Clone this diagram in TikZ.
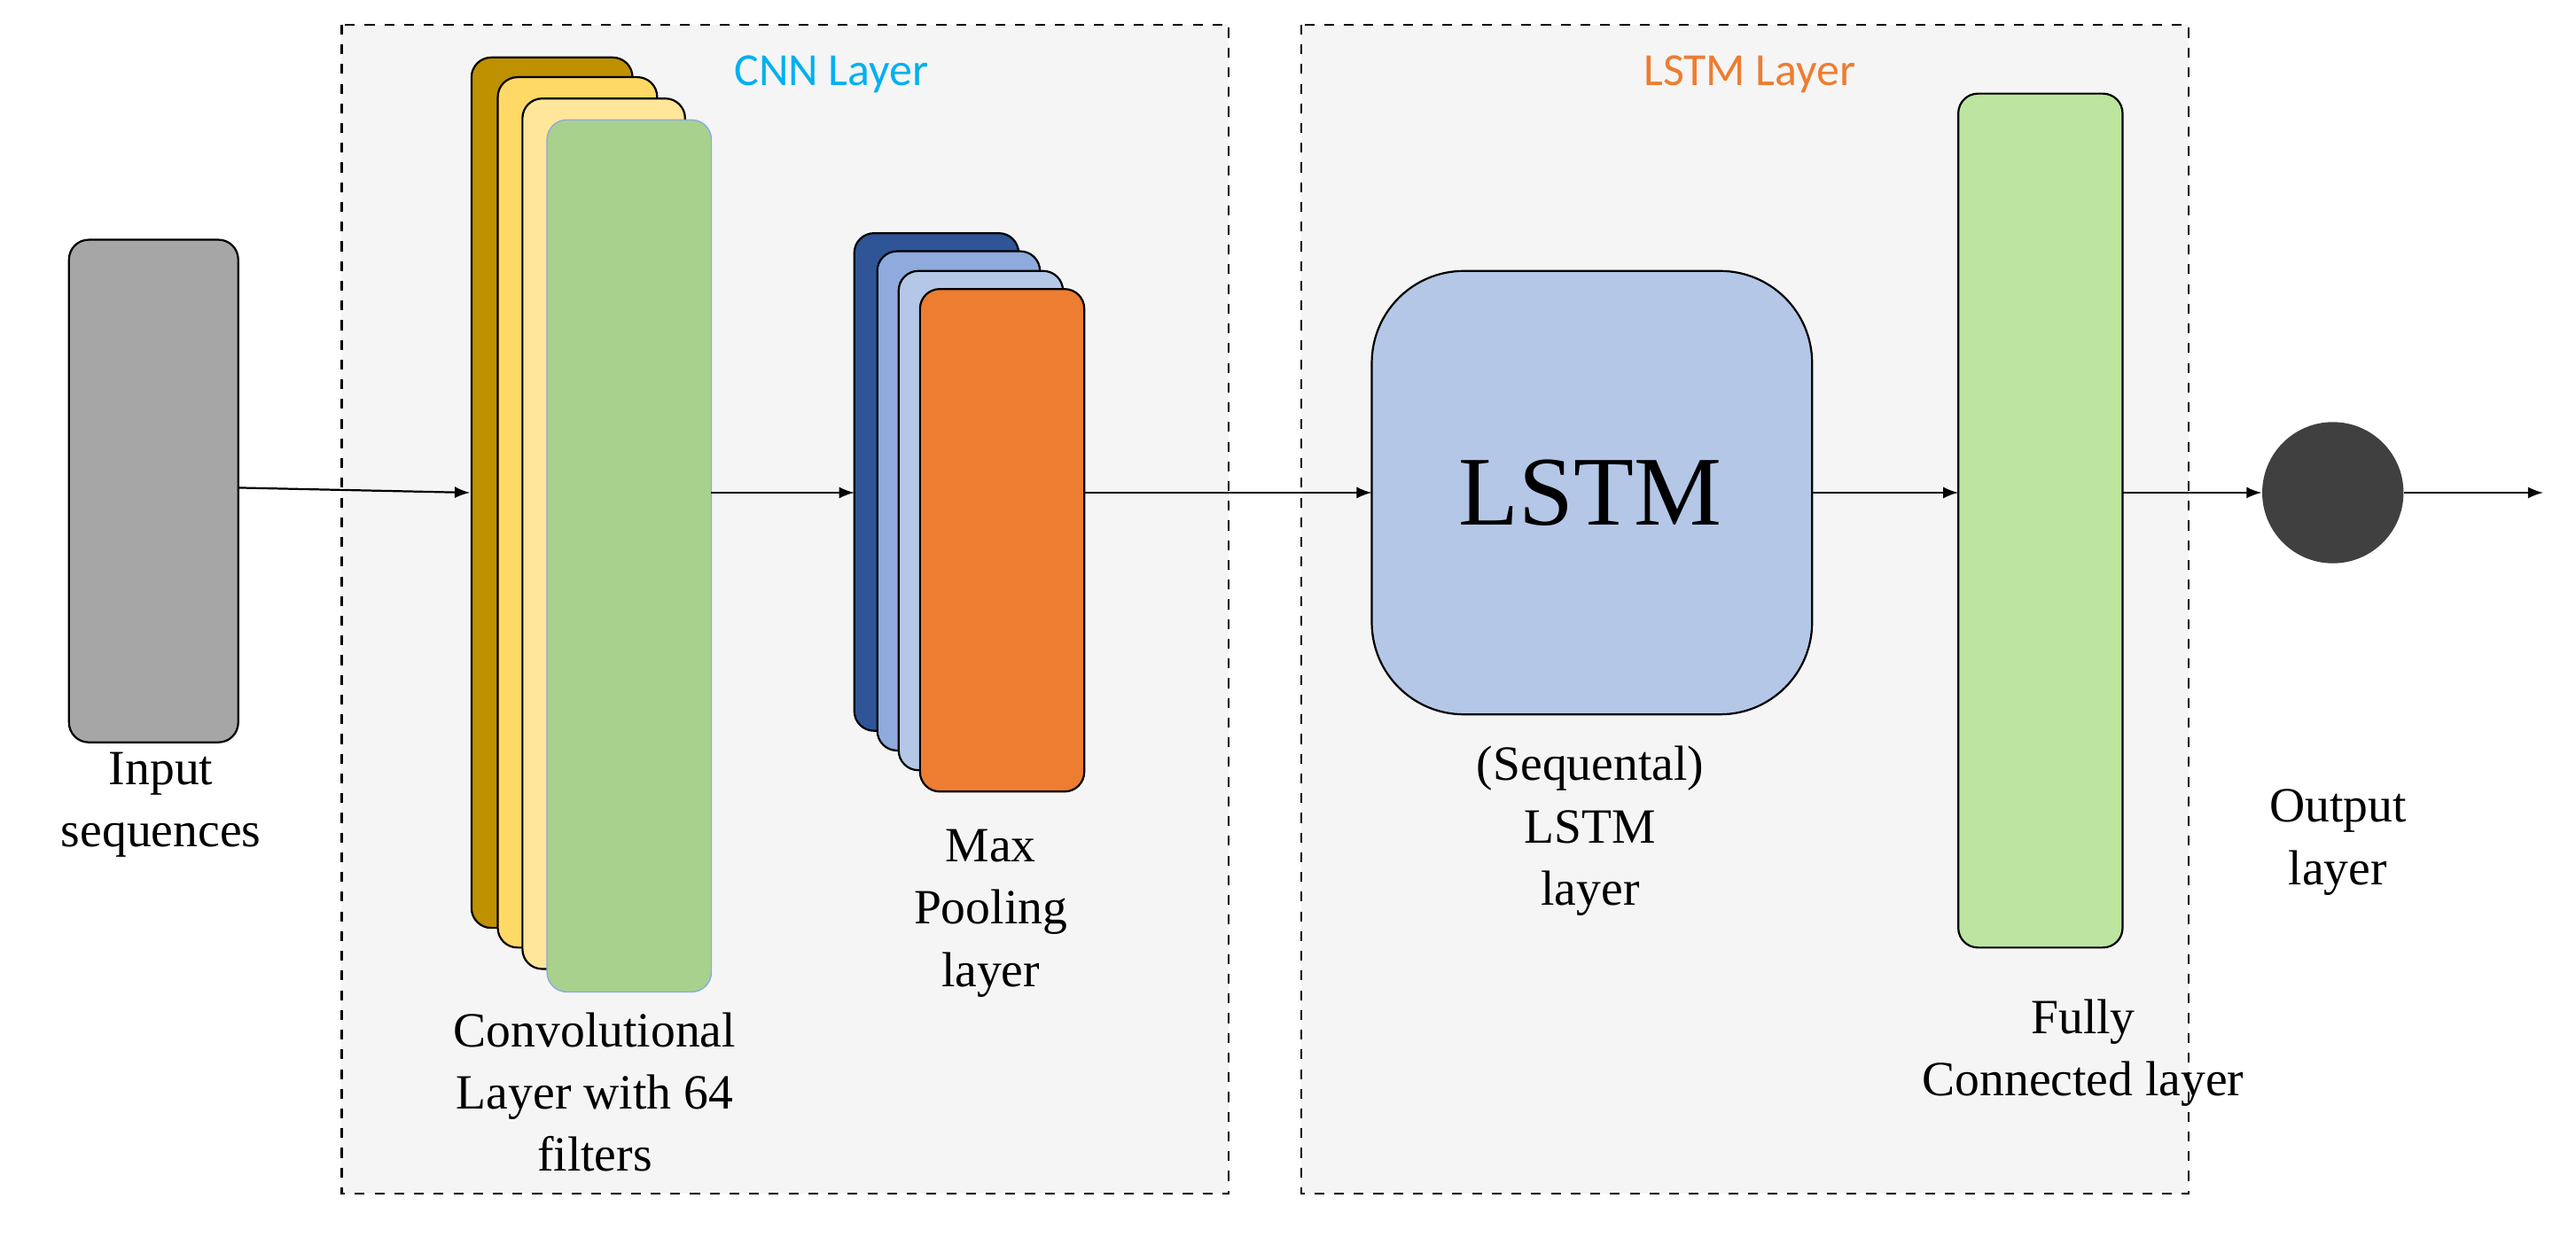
\documentclass[tikz,border=0pt]{standalone}
\usepackage{fontspec}
\setmainfont{Liberation Serif}
\newfontfamily\carl{Carlito}
\definecolor{cgold}{HTML}{BF9000}
\definecolor{cyel}{HTML}{FFD966}
\definecolor{clyel}{HTML}{FFE699}
\definecolor{cgreen}{HTML}{A9D18E}
\definecolor{cdblue}{HTML}{2F5597}
\definecolor{cmblue}{HTML}{8FAADC}
\definecolor{clblue}{HTML}{B4C7E7}
\definecolor{corange}{HTML}{ED7D31}
\definecolor{cfc}{HTML}{BDE5A0}
\definecolor{ccyan}{HTML}{00B0F0}
\begin{document}
\begin{tikzpicture}[x=0.5pt,y=-0.5pt,
  box/.style={draw=black,dashed,fill=gray!8,line width=0.6pt},
  blk/.style={draw=black,line width=0.6pt,rounded corners=6pt},
  lbl/.style={align=center,font=\fontsize{15}{19}\selectfont},
  arr/.style={-latex,line width=0.6pt}]
\useasboundingbox (0,0) rectangle (1568,758);
\fill[white] (0,0) rectangle (1568,758);
\draw[box] (208,15) rectangle (748,727);
\draw[box] (792,15) rectangle (1332,727);
\node[text=ccyan,font=\carl\fontsize{14}{16}\selectfont] (cnnt) at (506,45) {CNN Layer};
\node[text=corange,font=\carl\fontsize{14}{16}\selectfont] (lstmt) at (1065,45) {LSTM Layer};
% input
\draw[blk,fill=gray!70] (42,146) rectangle (145,452);
\coordinate (inR) at (145,297);
% conv stack
\draw[blk,fill=cgold] (287,35) rectangle (385,565);
\draw[blk,fill=cyel] (303,47) rectangle (400,577);
\draw[blk,fill=clyel] (318,60) rectangle (417,590);
\draw[rounded corners=6pt,draw=cmblue,fill=cgreen] (333,73) rectangle (433,604);
\coordinate (convL) at (286,300);
\coordinate (convR) at (433,300);
% max pooling
\draw[blk,fill=cdblue] (520,142) rectangle (620,445);
\draw[blk,fill=cmblue] (534,153) rectangle (633,457);
\draw[blk,fill=clblue] (547,165) rectangle (647,469);
\draw[blk,fill=corange] (560,176) rectangle (660,482);
\coordinate (mpL) at (520,300);
\coordinate (mpR) at (660,300);
% lstm
\draw[draw=black,line width=0.6pt,rounded corners=28pt,fill=clblue] (835,165) rectangle (1103,435);
\node[font=\fontsize{30}{34}\selectfont] (lstm) at (968,300) {LSTM};
\coordinate (lsL) at (835,300);
\coordinate (lsR) at (1103,300);
% fc
\draw[blk,fill=cfc] (1192,57) rectangle (1292,577);
\coordinate (fcL) at (1192,300);
\coordinate (fcR) at (1292,300);
% output
\node[circle,fill=black!75,minimum size=43pt,inner sep=0] (out) at (1420,300) {};
\coordinate (end) at (1548,300);
\draw[arr] (inR) -- (convL);
\draw[arr] (convR) -- (mpL);
\draw[arr] (mpR) -- (lsL);
\draw[arr] (lsR) -- (fcL);
\draw[arr] (fcR) -- (out);
\draw[arr] (out) -- (end);
% labels
\node[lbl] (l1) at (98,490) {Input\\sequences};
\node[lbl] (l2) at (362,665) {Convolutional\\Layer with 64\\filters};
\node[lbl] (l3) at (603,556) {Max\\Pooling\\layer};
\node[lbl] (l4) at (968,506) {(Sequental)\\LSTM\\layer};
\node[lbl] (l5) at (1423,513) {Output\\layer};
\node[lbl] (l6) at (1268,641) {Fully\\Connected layer};
\end{tikzpicture}
\end{document}
